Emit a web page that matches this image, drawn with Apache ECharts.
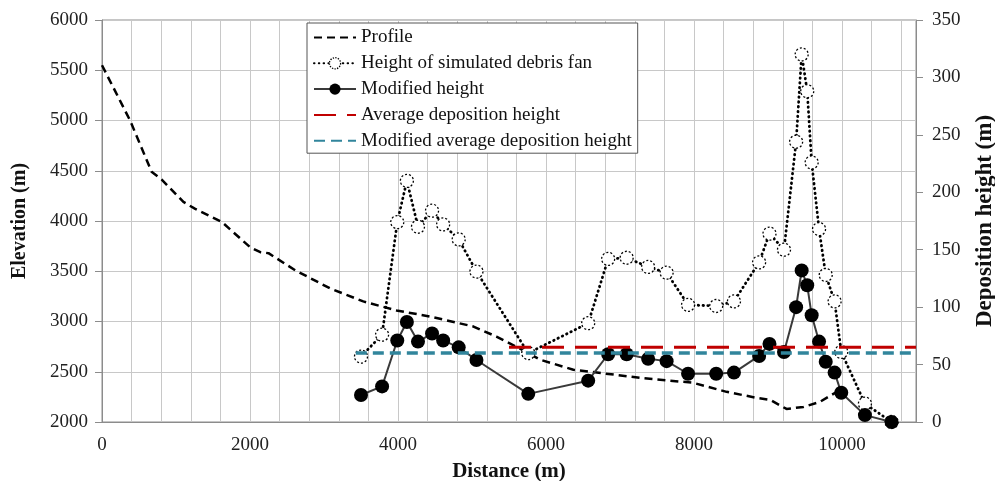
<!DOCTYPE html>
<html>
<head>
<meta charset="utf-8">
<script src="https://cdn.jsdelivr.net/npm/echarts@6/dist/echarts.min.js"></script>
<style>html,body{margin:0;padding:0;background:#fff;}#c{width:995px;height:481px;}</style>
</head>
<body>
<div id="c"></div>
<script>
// Profile (distance m, elevation m)
const profileDistance = [0,380,670,810,1100,1260,1620,2000,2140,2250,2610,3080,3530,3980,4430,5020,5330,5650,5920,6370,7270,7990,8440,8850,9030,9250,9480,9700,10000];
const profileElevation = [5550,5000,4490,4410,4190,4120,3990,3740,3690,3680,3510,3330,3200,3110,3050,2950,2850,2730,2620,2520,2440,2390,2300,2240,2220,2130,2150,2200,2330];
// Deposition points (distance m)
const depositDistance = [3500,3785,3990,4120,4270,4460,4610,4820,5060,5760,6570,6840,7090,7380,7630,7920,8300,8540,8880,9020,9216,9380,9455,9530,9590,9690,9780,9900,9990,10310,10670];
const simulatedHeight = [57,76,174,210,170,184,172,159,131,60,86,142,143,135,130,102,101,105,139,164,150,244,320,288,226,168,128,105,61,16,0];
const modifiedHeight = [23.5,31,71,87,70,77,71,65,54,24.5,36,59,59,55,53,42,42,43,57.5,68,61,100,132,119,93,70,52.5,43,25.5,6,0];
// Average lines
const avgDepositionHeight = 65;
const avgDepositionRange = [5500, 11000];
const modAvgDepositionHeight = 60;
const modAvgDepositionRange = [3430, 11000];
// Axis ticks
const xTicks = [0, 11000, 400, 2000]; // min, max, grid step, label step
const elevTicks = [2000, 6000, 500];
const depTicks = [0, 350, 50];

const zip = (a, b) => a.map((v, i) => [v, b[i]]);
const FONT = "'Liberation Serif','Times New Roman',serif";
const noSymbol = {opacity: 0, color: 'rgba(0,0,0,0)', borderWidth: 0};

const chart = echarts.init(document.getElementById('c'), null, {renderer: 'canvas'});
chart.setOption({
  animation: false,
  backgroundColor: '#fff',
  grid: {left: 102, right: 79, top: 20, bottom: 59, show: true, borderColor: '#8c8c8c', borderWidth: 1,
         containLabel: false, outerBoundsMode: 'none'},
  legend: {
    orient: 'vertical', left: 307, top: 23,
    backgroundColor: '#fff', borderColor: '#555', borderWidth: 1,
    padding: [5, 6, 3, 6], itemWidth: 42, itemHeight: 14, itemGap: 6.8,
    textStyle: {fontFamily: FONT, fontSize: 19, color: '#111'},
    data: [
      {name: 'Profile', itemStyle: noSymbol},
      {name: 'Height of simulated debris fan', itemStyle: {borderType: 'dotted', borderWidth: 1.3}},
      {name: 'Modified height'},
      {name: 'Average deposition height', itemStyle: noSymbol},
      {name: 'Modified average deposition height', itemStyle: noSymbol}
    ]
  },
  xAxis: {
    type: 'value', min: xTicks[0], max: xTicks[1], interval: xTicks[2],
    name: 'Distance (m)', nameLocation: 'middle', nameGap: 39,
    nameTextStyle: {fontFamily: FONT, fontSize: 21, fontWeight: 'bold', color: '#111'},
    axisLine: {lineStyle: {color: '#8c8c8c'}},
    axisTick: {show: false},
    axisLabel: {fontFamily: FONT, fontSize: 19, color: '#222', margin: 14,
      formatter: v => (v % xTicks[3] === 0 ? String(v) : '')},
    splitLine: {show: true, lineStyle: {color: '#c8c8c8', width: 1}}
  },
  yAxis: [{
    type: 'value', min: elevTicks[0], max: elevTicks[1], interval: elevTicks[2],
    name: 'Elevation (m)', nameLocation: 'middle', nameGap: 72, nameRotate: 90,
    nameTextStyle: {fontFamily: FONT, fontSize: 20, fontWeight: 'bold', color: '#111'},
    axisLine: {show: true, lineStyle: {color: '#8c8c8c'}},
    axisTick: {show: true, length: 7, lineStyle: {color: '#8c8c8c'}},
    axisLabel: {fontFamily: FONT, fontSize: 19, color: '#222', margin: 14, formatter: v => String(v)},
    splitLine: {show: true, lineStyle: {color: '#c8c8c8', width: 1}}
  }, {
    type: 'value', min: depTicks[0], max: depTicks[1], interval: depTicks[2],
    position: 'right',
    name: 'Deposition height (m)', nameLocation: 'middle', nameGap: 58, nameRotate: 90,
    nameTextStyle: {fontFamily: FONT, fontSize: 23, fontWeight: 'bold', color: '#111'},
    axisLine: {show: true, lineStyle: {color: '#8c8c8c'}},
    axisTick: {show: true, length: 7, lineStyle: {color: '#8c8c8c'}},
    axisLabel: {fontFamily: FONT, fontSize: 19, color: '#222', margin: 16, formatter: v => String(v)},
    splitLine: {show: false}
  }],
  series: [{
    name: 'Profile', type: 'line', yAxisIndex: 0, data: zip(profileDistance, profileElevation),
    symbol: 'none', lineStyle: {color: '#000', width: 2.5, type: [8, 5]}, itemStyle: {color: '#000'}, z: 2
  }, {
    name: 'Height of simulated debris fan', type: 'line', yAxisIndex: 1, data: zip(depositDistance, simulatedHeight),
    symbol: 'circle', symbolSize: 13,
    lineStyle: {color: '#000', width: 2.8, type: [0.5, 4.3], cap: 'round'},
    itemStyle: {color: '#fff', borderColor: '#000', borderWidth: 1.3, borderType: [2, 2]}, z: 3
  }, {
    name: 'Modified height', type: 'line', yAxisIndex: 1, data: zip(depositDistance, modifiedHeight),
    symbol: 'circle', symbolSize: 14,
    lineStyle: {color: '#3a3a3a', width: 2}, itemStyle: {color: '#000'}, z: 4
  }, {
    name: 'Average deposition height', type: 'line', yAxisIndex: 1,
    data: avgDepositionRange.map(x => [x, avgDepositionHeight]),
    symbol: 'none', lineStyle: {color: '#c00000', width: 3, type: [22, 11]}, itemStyle: {color: '#c00000'}, z: 5
  }, {
    name: 'Modified average deposition height', type: 'line', yAxisIndex: 1,
    data: modAvgDepositionRange.map(x => [x, modAvgDepositionHeight]),
    symbol: 'none', lineStyle: {color: '#31859c', width: 3.5, type: [11, 6]}, itemStyle: {color: '#31859c'}, z: 5
  }]
});
</script>
</body>
</html>
